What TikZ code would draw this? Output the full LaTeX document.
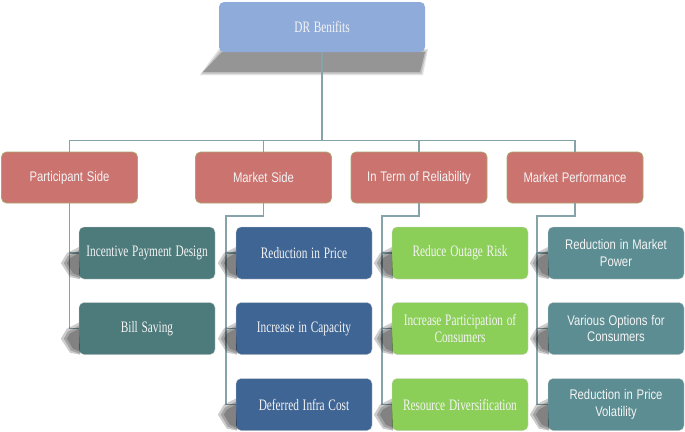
\documentclass[tikz,border=0pt]{standalone}
\usepackage{fontspec}
\usepackage{graphicx}
\newfontfamily\cserif{Liberation Serif}
\newfontfamily\csans{Liberation Sans}
\newcommand{\hsr}[1]{\scalebox{0.71}[1]{#1}}
\newcommand{\hsa}[1]{\scalebox{0.81}[1]{#1}}
\usetikzlibrary{calc}
\definecolor{topblue}{HTML}{8FABD9}
\definecolor{catred}{HTML}{CB736F}
\definecolor{catedge}{HTML}{A9A76F}
\definecolor{pteal}{HTML}{4D7A7B}
\definecolor{mblue}{HTML}{3F6594}
\definecolor{rgreen}{HTML}{8BCF58}
\definecolor{mteal}{HTML}{5B8D92}
\definecolor{linec}{HTML}{86A3AA}
\definecolor{txt}{HTML}{F4F4F4}
\tikzset{
  box/.style={rounded corners=5bp, minimum width=136bp, text width=134bp, align=center, inner sep=0pt, text=txt},
  topbox/.style={box, fill=topblue, minimum width=206bp, text width=190bp, minimum height=50bp, font=\cserif\fontsize{16}{17}\selectfont},
  catbox/.style={box, fill=catred, draw=catedge, line width=0.8bp, minimum height=51bp, font=\csans\fontsize{14}{17}\selectfont},
  childbox/.style={box, minimum height=52bp, draw=white!60!gray, line width=0.3bp},
  sbox/.style={childbox, font=\cserif\fontsize{16}{17}\selectfont},
  abox/.style={childbox, font=\csans\fontsize{14}{16.5}\selectfont},
  conn/.style={draw=linec, line width=1.1bp},
  shad/.style={fill=black, opacity=0.2}
}
\begin{document}
\begin{tikzpicture}[x=1bp,y=-1bp]
\useasboundingbox (0,0) rectangle (685,431);
% top shadow (soft)
\foreach \e/\o in {3/0.12,1.5/0.15,0/0.22}{
  \fill[black, opacity=\o] (222-\e,52-\e) -- (425+\e,52-\e) -- (420+\e,72+\e) -- (203-\e,72+\e) -- cycle;
}
\node[topbox] (top) at (322,27) {\hsr{DR Benifits}};
\coordinate (hb) at (322,141);
% categories
\node[catbox] (c1) at (69.5,177.5) {\hsa{Participant Side}};
\node[catbox] (c2) at (263.5,177.5) {\hsa{Market Side}};
\node[catbox] (c3) at (419,177.5) {\hsa{In Term of Reliability}};
\node[catbox] (c4) at (575,177.5) {\hsa{Market Performance}};
% children
\node[sbox, fill=pteal] (p1) at (147,253) {\hsr{Incentive Payment Design}};
\node[sbox, fill=pteal] (p2) at (147,328.5) {\hsr{Bill Saving}};
\node[sbox, fill=mblue] (m1) at (304,253) {\hsr{Reduction in Price}};
\node[sbox, fill=mblue] (m2) at (304,328.5) {\hsr{Increase in Capacity}};
\node[sbox, fill=mblue] (m3) at (304,404.5) {\hsr{Deferred Infra Cost}};
\node[sbox, fill=rgreen] (r1) at (460,253) {\hsr{Reduce Outage Risk}};
\node[sbox, fill=rgreen] (r2) at (460,328.5) {\hsr{Increase Participation of}\\\hsr{Consumers}};
\node[sbox, fill=rgreen] (r3) at (460,404.5) {\hsr{Resource Diversification}};
\node[abox, fill=mteal] (q1) at (616,253) {\hsa{Reduction in Market}\\\hsa{Power}};
\node[abox, fill=mteal] (q2) at (616,328.5) {\hsa{Various Options for}\\\hsa{Consumers}};
\node[abox, fill=mteal] (q3) at (616,404.5) {\hsa{Reduction in Price}\\\hsa{Volatility}};
% connectors
\path[conn] (top.south) -- (hb);
\path[conn] (c1.north) -- ++(0,-11) -| (c4.north);
\path[conn] (c2.north) -- (c2.north |- hb);
\path[conn] (c3.north) -- (c3.north |- hb);
\path[conn] (c1.south) -- (c1.south |- p2.west) -- (p2.west);
\path[conn] (c1.south |- p1.west) -- (p1.west);
\coordinate (jm) at (226,216);
\path[conn] (c2.south) -- (c2.south |- jm) -- (jm) -- (jm |- m3.west) -- (m3.west);
\path[conn] (jm |- m1.west) -- (m1.west);
\path[conn] (jm |- m2.west) -- (m2.west);
\coordinate (jr) at (382,216);
\path[conn] (c3.south) -- (c3.south |- jr) -- (jr) -- (jr |- r3.west) -- (r3.west);
\path[conn] (jr |- r1.west) -- (r1.west);
\path[conn] (jr |- r2.west) -- (r2.west);
\coordinate (jq) at (537,216);
\path[conn] (c4.south) -- (c4.south |- jq) -- (jq) -- (jq |- q3.west) -- (q3.west);
\path[conn] (jq |- q1.west) -- (q1.west);
\path[conn] (jq |- q2.west) -- (q2.west);
% wedge shadows (soft, layered)
\foreach \n in {p1,p2,m1,m2,m3,r1,r2,r3,q1,q2,q3}{
  \fill[shad] ($(\n.south west)+(0,-32)$) -- ($(\n.south west)+(-12,-26)$) -- ($(\n.south west)+(-18,-16)$) -- ($(\n.south west)+(-9,-2)$) -- ($(\n.south west)+(1,0)$) -- cycle;
  \fill[shad] ($(\n.south west)+(0,-29)$) -- ($(\n.south west)+(-11,-23)$) -- ($(\n.south west)+(-15,-16)$) -- ($(\n.south west)+(-8,-4)$) -- ($(\n.south west)+(1,-1)$) -- cycle;
  \fill[shad] ($(\n.south west)+(0,-26)$) -- ($(\n.south west)+(-9,-21)$) -- ($(\n.south west)+(-12,-16)$) -- ($(\n.south west)+(-6,-6)$) -- ($(\n.south west)+(1,-3)$) -- cycle;
}
\end{tikzpicture}
\end{document}
